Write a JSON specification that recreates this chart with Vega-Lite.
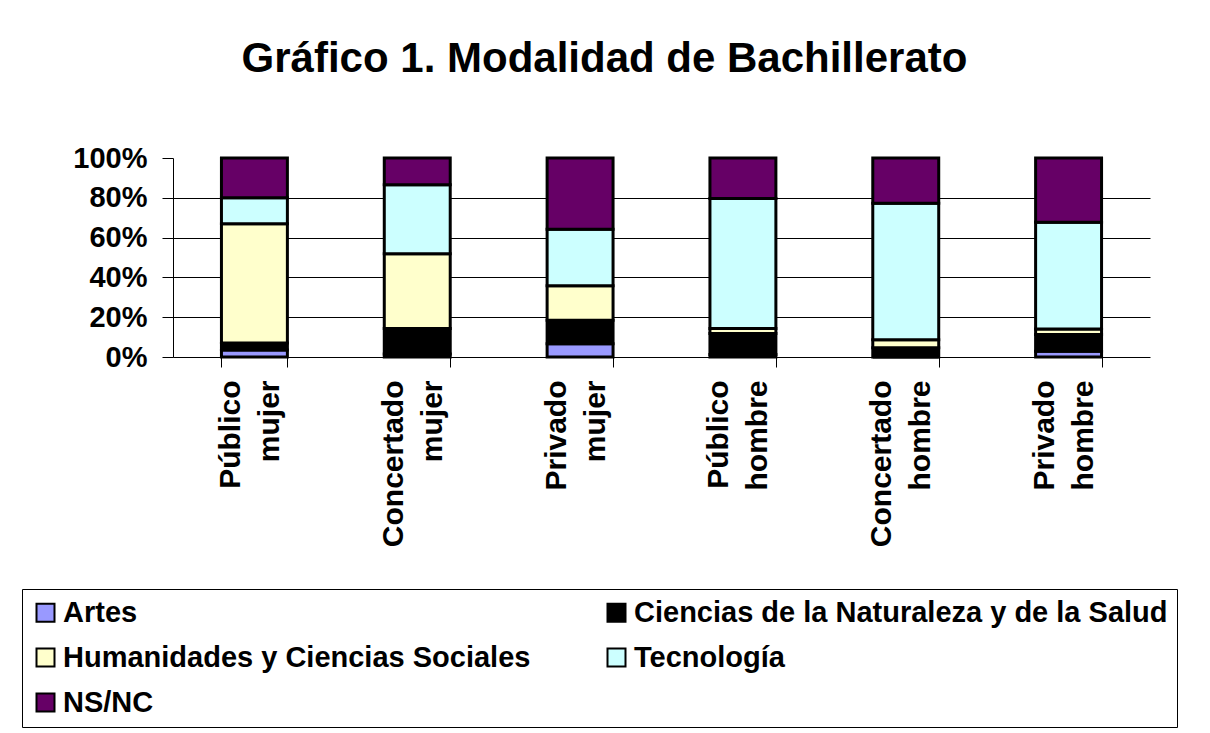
{
  "$schema": "https://vega.github.io/schema/vega-lite/v6.json",
  "width": 977,
  "height": 199,
  "autosize": {"type": "none"},
  "padding": {"left": 173, "top": 158, "right": 60, "bottom": 376},
  "background": "white",
  "title": {
    "text": "Gráfico 1. Modalidad de Bachillerato",
    "font": "Liberation Sans",
    "fontSize": 42,
    "fontWeight": "bold",
    "color": "black",
    "anchor": "middle",
    "dx": -57,
    "offset": 30,
    "baseline": "alphabetic"
  },
  "data": {
    "values": [
      {"grupo": "Público mujer", "modalidad": "Artes", "orden": 1, "pct": 3.5},
      {"grupo": "Público mujer", "modalidad": "Ciencias de la Naturaleza y de la Salud", "orden": 2, "pct": 3.5},
      {"grupo": "Público mujer", "modalidad": "Humanidades y Ciencias Sociales", "orden": 3, "pct": 60},
      {"grupo": "Público mujer", "modalidad": "Tecnología", "orden": 4, "pct": 13},
      {"grupo": "Público mujer", "modalidad": "NS/NC", "orden": 5, "pct": 20},
      {"grupo": "Concertado mujer", "modalidad": "Artes", "orden": 1, "pct": 1.5},
      {"grupo": "Concertado mujer", "modalidad": "Ciencias de la Naturaleza y de la Salud", "orden": 2, "pct": 12.8},
      {"grupo": "Concertado mujer", "modalidad": "Humanidades y Ciencias Sociales", "orden": 3, "pct": 37.6},
      {"grupo": "Concertado mujer", "modalidad": "Tecnología", "orden": 4, "pct": 34.7},
      {"grupo": "Concertado mujer", "modalidad": "NS/NC", "orden": 5, "pct": 13.4},
      {"grupo": "Privado mujer", "modalidad": "Artes", "orden": 1, "pct": 6.6},
      {"grupo": "Privado mujer", "modalidad": "Ciencias de la Naturaleza y de la Salud", "orden": 2, "pct": 11.9},
      {"grupo": "Privado mujer", "modalidad": "Humanidades y Ciencias Sociales", "orden": 3, "pct": 17.3},
      {"grupo": "Privado mujer", "modalidad": "Tecnología", "orden": 4, "pct": 28.4},
      {"grupo": "Privado mujer", "modalidad": "NS/NC", "orden": 5, "pct": 35.8},
      {"grupo": "Público hombre", "modalidad": "Artes", "orden": 1, "pct": 1.2},
      {"grupo": "Público hombre", "modalidad": "Ciencias de la Naturaleza y de la Salud", "orden": 2, "pct": 10.6},
      {"grupo": "Público hombre", "modalidad": "Humanidades y Ciencias Sociales", "orden": 3, "pct": 2.5},
      {"grupo": "Público hombre", "modalidad": "Tecnología", "orden": 4, "pct": 65.4},
      {"grupo": "Público hombre", "modalidad": "NS/NC", "orden": 5, "pct": 20.3},
      {"grupo": "Concertado hombre", "modalidad": "Artes", "orden": 1, "pct": 0},
      {"grupo": "Concertado hombre", "modalidad": "Ciencias de la Naturaleza y de la Salud", "orden": 2, "pct": 4.7},
      {"grupo": "Concertado hombre", "modalidad": "Humanidades y Ciencias Sociales", "orden": 3, "pct": 4},
      {"grupo": "Concertado hombre", "modalidad": "Tecnología", "orden": 4, "pct": 68.6},
      {"grupo": "Concertado hombre", "modalidad": "NS/NC", "orden": 5, "pct": 22.7},
      {"grupo": "Privado hombre", "modalidad": "Artes", "orden": 1, "pct": 2.9},
      {"grupo": "Privado hombre", "modalidad": "Ciencias de la Naturaleza y de la Salud", "orden": 2, "pct": 8.4},
      {"grupo": "Privado hombre", "modalidad": "Humanidades y Ciencias Sociales", "orden": 3, "pct": 2.8},
      {"grupo": "Privado hombre", "modalidad": "Tecnología", "orden": 4, "pct": 53.6},
      {"grupo": "Privado hombre", "modalidad": "NS/NC", "orden": 5, "pct": 32.3}
    ]
  },
  "mark": {"type": "bar", "stroke": "black", "strokeWidth": 3},
  "encoding": {
    "x": {
      "field": "grupo",
      "type": "nominal",
      "sort": ["Público mujer", "Concertado mujer", "Privado mujer", "Público hombre", "Concertado hombre", "Privado hombre"],
      "scale": {"paddingInner": 0.595, "paddingOuter": 0.2975},
      "axis": {
        "title": null,
        "labelAngle": 270,
        "labelAlign": "right",
        "labelBaseline": "middle",
        "labelExpr": "split(datum.label, ' ')",
        "labelFont": "Liberation Sans",
        "labelFontSize": 30,
        "labelFontWeight": "bold",
        "labelColor": "black",
        "labelLineHeight": 39,
        "labelOffset": -24,
        "labelPadding": 13,
        "labelLimit": 400,
        "tickBand": "extent",
        "tickSize": 10,
        "tickColor": "black",
        "domainColor": "black",
        "grid": false
      }
    },
    "y": {
      "field": "pct",
      "type": "quantitative",
      "stack": "normalize",
      "scale": {"domain": [0, 1]},
      "axis": {
        "title": null,
        "values": [0, 0.2, 0.4, 0.6, 0.8, 1],
        "format": ".0%",
        "labelFont": "Liberation Sans",
        "labelFontSize": 29,
        "labelFontWeight": "bold",
        "labelColor": "black",
        "labelPadding": 15,
        "tickSize": 11,
        "tickColor": "black",
        "domainColor": "black",
        "grid": true,
        "gridColor": "black",
        "gridWidth": 1,
        "gridOpacity": {"condition": {"test": "datum.value >= 0.99 || datum.value <= 0.01", "value": 0}, "value": 1}
      }
    },
    "order": {"field": "orden", "type": "quantitative", "sort": "ascending"},
    "color": {
      "field": "modalidad",
      "type": "nominal",
      "scale": {
        "domain": ["Artes", "Humanidades y Ciencias Sociales", "NS/NC", "Ciencias de la Naturaleza y de la Salud", "Tecnología"],
        "range": ["#9999FF", "#FFFFCC", "#660066", "#000000", "#CCFFFF"]
      },
      "legend": {
        "title": null,
        "orient": "none",
        "legendX": -151,
        "legendY": 431,
        "columns": 2,
        "columnPadding": 71,
        "rowPadding": 15,
        "padding": 9,
        "strokeColor": "black",
        "symbolType": "square",
        "symbolSize": 324,
        "symbolStrokeColor": "black",
        "symbolStrokeWidth": 2,
        "labelFont": "Liberation Sans",
        "labelFontSize": 29,
        "labelFontWeight": "bold",
        "labelColor": "black",
        "labelLimit": 700,
        "labelOffset": 3
      }
    }
  },
  "config": {"view": {"stroke": null}}
}
